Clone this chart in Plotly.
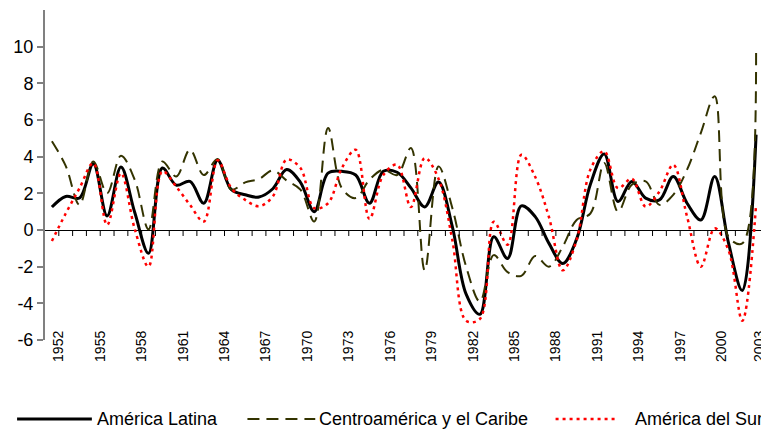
import plotly.graph_objects as go

years = list(range(1952, 2004))

america_latina = [
    1.25, 1.83, 1.75, 3.62, 0.77, 3.43, 0.95, -1.27, 3.38, 2.45,
    2.65, 1.46, 3.80, 2.20, 1.92, 1.80, 2.25, 3.30, 2.60, 1.00,
    3.10, 3.20, 3.00, 1.46, 3.20, 3.15, 2.30, 1.26, 2.62, 0.18,
    -3.50, -4.60, -0.37, -1.55, 1.32, 0.73, -0.73, -1.83, -0.50, 2.50,
    4.15, 1.55, 2.65, 1.74, 1.64, 2.92, 1.46, 0.55, 2.92, -0.70,
    -3.30, 5.20,
]

centroamerica_caribe = [
    4.84, 3.50, 1.37, 3.74, 2.00, 4.05, 2.74, 0.04, 3.74, 2.92,
    4.38, 3.00, 3.87, 2.20, 2.60, 2.78, 3.25, 2.70, 2.20, 0.46,
    5.57, 2.28, 1.74, 2.74, 3.29, 3.00, 4.47, -2.20, 3.47, 1.20,
    -2.00, -3.90, -1.37, -2.30, -2.50, -1.42, -2.00, -0.90, 0.55, 0.90,
    3.65, 1.00, 2.47, 2.65, 1.37, 1.92, 3.29, 5.30, 7.30, -0.37,
    -0.73, 9.70,
]

america_del_sur = [
    -0.60, 0.90, 2.28, 3.65, 0.27, 3.10, 0.05, -2.00, 3.20, 2.37,
    1.37, 0.46, 3.80, 2.28, 1.64, 1.30, 1.83, 3.84, 3.38, 1.19,
    1.46, 3.38, 4.38, 0.60, 3.00, 3.56, 1.25, 3.93, 2.80, -0.55,
    -4.95, -4.85, 0.45, -0.80, 4.10, 2.90, 0.70, -2.20, -0.55, 3.30,
    4.30, 2.28, 2.80, 1.28, 2.10, 3.56, 0.73, -2.00, 0.09, -1.10,
    -4.95, 1.40,
]

series_names = ["América Latina", "Centroamérica y el Caribe", "América del Sur"]
label_years = [y for y in years if (y - 1952) % 3 == 0]
y_ticks = [-6, -4, -2, 0, 2, 4, 6, 8, 10]
y_ticktext = [str(v) for v in y_ticks]

FONT = "Arial, 'Liberation Sans', sans-serif"
OFF = 8  # default page body margin in the browser
W, H = 769 - OFF, 429 - OFF
# plot area in reference pixels: x 45..765, y 10..340
ML, MT = 45 - OFF, 10 - OFF
MR = 769 - 765
MB = H - (340 - OFF)
PW = W - ML - MR
PH = H - MT - MB

X_MIN, X_MAX = years[0] - 0.5, years[-1] + 0.5

styles = [
    dict(color="#000000", width=3, dash="solid"),
    dict(color="#333300", width=2, dash="12px,7px"),
    dict(color="#ff0000", width=2.5, dash="3px,4px"),
]

fig = go.Figure()
for name, vals, st in zip(series_names,
                          [america_latina, centroamerica_caribe, america_del_sur],
                          styles):
    fig.add_trace(go.Scatter(
        x=years, y=vals, mode="lines", name=name, showlegend=False,
        line=dict(color=st["color"], width=st["width"], dash=st["dash"],
                  shape="spline", smoothing=1.0),
        hoverinfo="skip",
    ))

shapes = []
# tick marks on the zero line, at category boundaries
tick_len_units = 6 / (PH / 18.0)
for y in years:
    shapes.append(dict(type="line", xref="x", yref="y",
                       x0=y + 0.5, x1=y + 0.5, y0=0, y1=-tick_len_units,
                       line=dict(color="#000000", width=1)))

# manual legend (reference pixel positions)
def px_x(p):
    return (p - OFF - ML) / PW

def px_y(p):
    return (H - MB - (p - OFF)) / PH

legend_y = 419
legend_items = [
    (17, 92, 97),
    (248, 316, 320),
    (557, 617, 637),
]
annotations = []
for (x0, x1, tx), name, st in zip(legend_items, series_names, styles):
    shapes.append(dict(type="line", xref="paper", yref="paper",
                       x0=px_x(x0), x1=px_x(x1), y0=px_y(legend_y), y1=px_y(legend_y),
                       line=dict(color=st["color"], width=st["width"], dash=st["dash"])))
    annotations.append(dict(xref="paper", yref="paper", x=px_x(tx), y=px_y(legend_y),
                            text=name, showarrow=False, xanchor="left", yanchor="middle",
                            xshift=-2,
                            font=dict(family=FONT, size=18, color="#000000")))

# category labels sit at the boundary after each labelled year; keep last inside page
label_pos = [min(y + 0.5, X_MAX - 0.25) for y in label_years]

fig.update_layout(
    width=W, height=H,
    margin=dict(l=ML, r=MR, t=MT, b=MB, pad=0),
    paper_bgcolor="white", plot_bgcolor="white",
    showlegend=False,
    shapes=shapes,
    annotations=annotations,
    xaxis=dict(
        range=[X_MIN, X_MAX],
        tickmode="array",
        tickvals=label_pos,
        ticktext=[str(y) for y in label_years],
        tickangle=-90,
        ticks="",
        showline=False, showgrid=False, zeroline=False,
        tickfont=dict(family=FONT, size=14, color="#000000"),
        ticklabelstandoff=-13,
        ticklabeloverflow="allow",
    ),
    yaxis=dict(
        range=[-6, 12],
        tickmode="array",
        tickvals=y_ticks,
        ticktext=y_ticktext,
        ticks="outside", ticklen=6, tickwidth=1.5, tickcolor="#808080",
        showline=True, linecolor="#808080", linewidth=2,
        showgrid=False,
        zeroline=True, zerolinecolor="#000000", zerolinewidth=1,
        tickfont=dict(family=FONT, size=18, color="#000000"),
    ),
)

fig.write_html("out.html")
